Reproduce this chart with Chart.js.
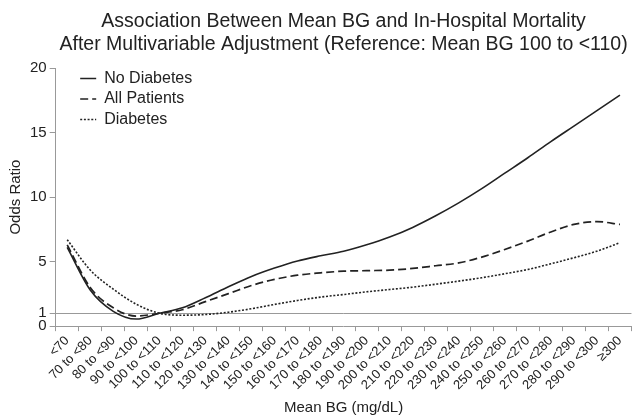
<!DOCTYPE html>
<html>
<head>
<meta charset="utf-8">
<script src="https://cdn.jsdelivr.net/npm/chart.js@4"></script>
<style>
  html, body { margin: 0; padding: 0; background: #fff; }
  #wrap { width: 633px; height: 419px; }
</style>
</head>
<body>
<div id="wrap"><canvas id="chart"></canvas></div>
<script>
// mean BG categories (mg/dL)
const categories = ['<70', '70 to <80', '80 to <90', '90 to <100', '100 to <110', '110 to <120',
  '120 to <130', '130 to <140', '140 to <150', '150 to <160', '160 to <170', '170 to <180',
  '180 to <190', '190 to <200', '200 to <210', '210 to <220', '220 to <230', '230 to <240',
  '240 to <250', '250 to <260', '260 to <270', '270 to <280', '280 to <290', '290 to <300', '≥300'];

// odds ratios
const noDiabetes = [6.1, 2.8, 1.15, 0.55, 1.0, 1.42, 2.2, 3.05, 3.85, 4.5, 5.05, 5.45, 5.8, 6.3,
  6.9, 7.65, 8.55, 9.55, 10.65, 11.85, 13.05, 14.3, 15.5, 16.7, 17.9];
const allPatients = [6.3, 3.0, 1.42, 0.78, 1.0, 1.27, 1.9, 2.52, 3.15, 3.62, 3.95, 4.13, 4.26, 4.3,
  4.34, 4.47, 4.68, 4.9, 5.35, 5.94, 6.59, 7.3, 7.88, 8.1, 7.88];
const diabetes = [6.7, 4.35, 2.87, 1.7, 1.0, 0.85, 0.9, 1.08, 1.35, 1.68, 1.99, 2.25, 2.45, 2.66,
  2.84, 3.02, 3.25, 3.49, 3.75, 4.06, 4.39, 4.83, 5.3, 5.81, 6.46];

const yTicks = [0, 1, 5, 10, 15, 20];

const font = 'Liberation Sans, Arial, sans-serif';
const ink = '#222';

// chartArea legends get top reset to 0, so put it back inside the plot
const legendInside = {
    id: 'legendInside',
    afterLayout(chart) {
        chart.legend.left = chart.chartArea.left + 20;
        chart.legend.top = chart.chartArea.top - 2;
    }
};

function line(label, data, dash, width) {
    return {
        label: label,
        data: data,
        borderColor: ink,
        backgroundColor: ink,
        borderWidth: width,
        borderDash: dash,
        pointRadius: 0,
        cubicInterpolationMode: 'monotone',
        fill: false
    };
}

new Chart(document.getElementById('chart'), {
    type: 'line',
    data: {
        labels: categories,
        datasets: [
            line('No Diabetes', noDiabetes, [], 1.6),
            line('All Patients', allPatients, [8, 4], 1.7),
            line('Diabetes', diabetes, [2, 1.7], 1.6)
        ]
    },
    options: {
        responsive: true,
        maintainAspectRatio: false,
        animation: false,
        layout: { padding: { left: 5, right: 1, bottom: 2 } },
        plugins: {
            title: {
                display: true,
                fullSize: false,
                text: ['Association Between Mean BG and In-Hospital Mortality',
                       'After Multivariable Adjustment (Reference: Mean BG 100 to <110)'],
                color: ink,
                font: { family: font, size: 19.5, weight: 'normal', lineHeight: 1.18 },
                padding: { top: 10, bottom: 12 }
            },
            legend: {
                position: 'chartArea',
                align: 'start',
                labels: {
                    usePointStyle: true,
                    pointStyle: 'line',
                    pointStyleWidth: 16,
                    padding: 4.5,
                    color: ink,
                    font: { family: font, size: 16 },
                    generateLabels: chart => Chart.defaults.plugins.legend.labels.generateLabels(chart).map(item => {
                        const ds = chart.data.datasets[item.datasetIndex];
                        item.lineDash = ds.borderDash;
                        item.lineWidth = ds.borderWidth;
                        item.strokeStyle = ds.borderColor;
                        return item;
                    })
                }
            },
            tooltip: { enabled: false }
        },
        scales: {
            x: {
                offset: true,
                grid: { display: true, offset: true, drawOnChartArea: false, tickLength: 5, color: '#999' },
                border: { color: '#999' },
                ticks: {
                    autoSkip: false,
                    minRotation: 45,
                    maxRotation: 45,
                    padding: 2,
                    color: ink,
                    font: { family: font, size: 13 }
                },
                title: {
                    display: true,
                    text: 'Mean BG (mg/dL)',
                    color: ink,
                    font: { family: font, size: 15 },
                    padding: { top: 4, bottom: 0 }
                }
            },
            y: {
                min: 0,
                max: 20,
                afterBuildTicks: axis => { axis.ticks = yTicks.map(v => ({ value: v })); },
                grid: {
                    drawOnChartArea: true,
                    tickLength: 6,
                    color: c => (c.tick && c.tick.value === 1 ? '#999' : 'rgba(0,0,0,0)'),
                    tickColor: '#999'
                },
                border: { color: '#999' },
                ticks: {
                    autoSkip: false,
                    padding: 3,
                    color: ink,
                    font: { family: font, size: 15 }
                },
                title: {
                    display: true,
                    text: 'Odds Ratio',
                    color: ink,
                    font: { family: font, size: 15 },
                    padding: { top: 2, bottom: 2 }
                }
            }
        }
    },
    plugins: [legendInside]
});
</script>
</body>
</html>
